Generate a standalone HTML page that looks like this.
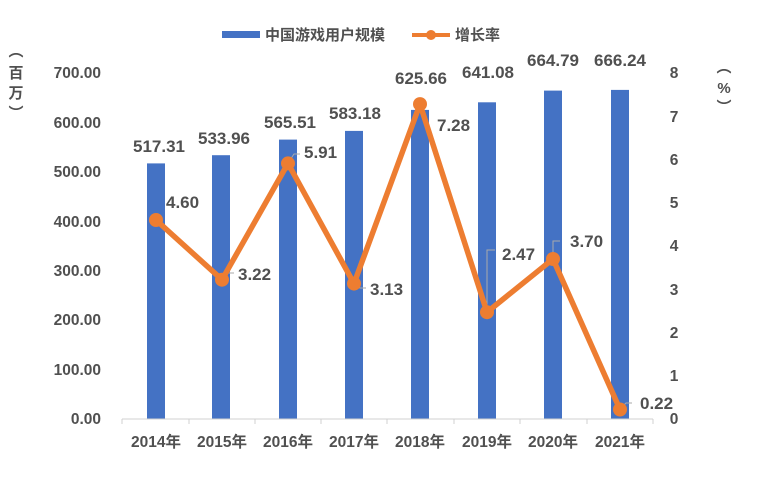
<!DOCTYPE html>
<html><head><meta charset="utf-8"><style>
body{margin:0;background:#fff}
svg text{font-family:"Liberation Sans","Noto Sans CJK SC",sans-serif;font-weight:bold;fill:#505050}
</style></head><body>
<svg width="766" height="479" xmlns="http://www.w3.org/2000/svg">
<rect width="766" height="479" fill="#fff"/>
<rect x="222" y="31" width="38" height="7" fill="#4472C4"/>
<text x="265" y="40" font-size="15" fill="#404040">中国游戏用户规模</text>
<line x1="412" y1="35" x2="450" y2="35" stroke="#ED7D31" stroke-width="4"/>
<circle cx="431" cy="35" r="5" fill="#ED7D31"/>
<text x="455" y="40" font-size="15" fill="#404040">增长率</text>
<g font-size="15" text-anchor="middle">
<text x="16" y="56">︵</text><text x="16" y="78">百</text><text x="16" y="98">万</text><text x="16" y="118">︶</text>
<text x="724" y="72">︵</text><text x="724" y="93">%</text><text x="724" y="112">︶</text>
</g>
<g font-size="15.5" text-anchor="end">
<text x="101" y="424">0.00</text>
<text x="101" y="375">100.00</text>
<text x="101" y="325">200.00</text>
<text x="101" y="276">300.00</text>
<text x="101" y="227">400.00</text>
<text x="101" y="177">500.00</text>
<text x="101" y="128">600.00</text>
<text x="101" y="78">700.00</text>
</g>
<g font-size="15.5" text-anchor="middle">
<text x="674" y="424">0</text><text x="674" y="381">1</text><text x="674" y="338">2</text><text x="674" y="295">3</text>
<text x="674" y="251">4</text><text x="674" y="208">5</text><text x="674" y="165">6</text><text x="674" y="122">7</text><text x="674" y="78">8</text>
</g>
<g fill="#4472C4">
<rect x="147" y="163.4" width="18" height="255.6"/>
<rect x="212" y="155.2" width="18" height="263.8"/>
<rect x="279" y="139.6" width="18" height="279.4"/>
<rect x="345" y="130.9" width="18" height="288.1"/>
<rect x="411" y="109.9" width="18" height="309.1"/>
<rect x="478" y="102.3" width="18" height="316.7"/>
<rect x="544" y="90.6" width="18" height="328.4"/>
<rect x="611" y="89.9" width="18" height="329.1"/>
</g>
<line x1="122" y1="419" x2="653" y2="419" stroke="#d0d0d0" stroke-width="1"/>
<g stroke="#d0d0d0">
<line x1="122" y1="419" x2="122" y2="424"/><line x1="189" y1="419" x2="189" y2="424"/><line x1="255" y1="419" x2="255" y2="424"/>
<line x1="321" y1="419" x2="321" y2="424"/><line x1="387" y1="419" x2="387" y2="424"/><line x1="454" y1="419" x2="454" y2="424"/>
<line x1="520" y1="419" x2="520" y2="424"/><line x1="587" y1="419" x2="587" y2="424"/><line x1="653" y1="419" x2="653" y2="424"/>
</g>
<g font-size="15.5" text-anchor="middle">
<text x="156" y="447">2014年</text><text x="222" y="447">2015年</text><text x="288" y="447">2016年</text><text x="354" y="447">2017年</text>
<text x="420" y="447">2018年</text><text x="487" y="447">2019年</text><text x="553" y="447">2020年</text><text x="620" y="447">2021年</text>
</g>
<g font-size="17" text-anchor="middle" fill="#404040">
<text x="159" y="152">517.31</text><text x="224" y="144">533.96</text><text x="290" y="128">565.51</text><text x="355" y="119">583.18</text>
<text x="421" y="84">625.66</text><text x="488" y="78">641.08</text><text x="553" y="66">664.79</text><text x="620" y="66">666.24</text>
</g>
<g stroke="#aaa" fill="none" stroke-width="1">
<polyline points="222,280 228,273 234,273"/>
<polyline points="288,163 294,154 300,154"/>
<polyline points="354,284 360,288 366,288"/>
<polyline points="487,312 487,250 495,250"/>
<polyline points="553,259 553,241 560,241"/>
<polyline points="620,409 626,403 632,403"/>
</g>
<polyline points="156,220 222,279.7 288,163.4 354,283.6 420,104.1 487,312.2 553,259 620,409.5" fill="none" stroke="#ED7D31" stroke-width="5.5" stroke-linejoin="round"/>
<g fill="#ED7D31">
<circle cx="156" cy="220" r="7"/><circle cx="222" cy="279.7" r="7"/><circle cx="288" cy="163.4" r="7"/><circle cx="354" cy="283.6" r="7"/>
<circle cx="420" cy="104.1" r="7"/><circle cx="487" cy="312.2" r="7"/><circle cx="553" cy="259" r="7"/><circle cx="620" cy="409.5" r="7"/>
</g>
<g font-size="17" fill="#404040">
<text x="166" y="208">4.60</text><text x="238" y="280">3.22</text><text x="304" y="158">5.91</text><text x="370" y="295">3.13</text>
<text x="437" y="131">7.28</text><text x="502" y="260">2.47</text><text x="570" y="247">3.70</text><text x="640" y="409">0.22</text>
</g>
</svg>
</body></html>
